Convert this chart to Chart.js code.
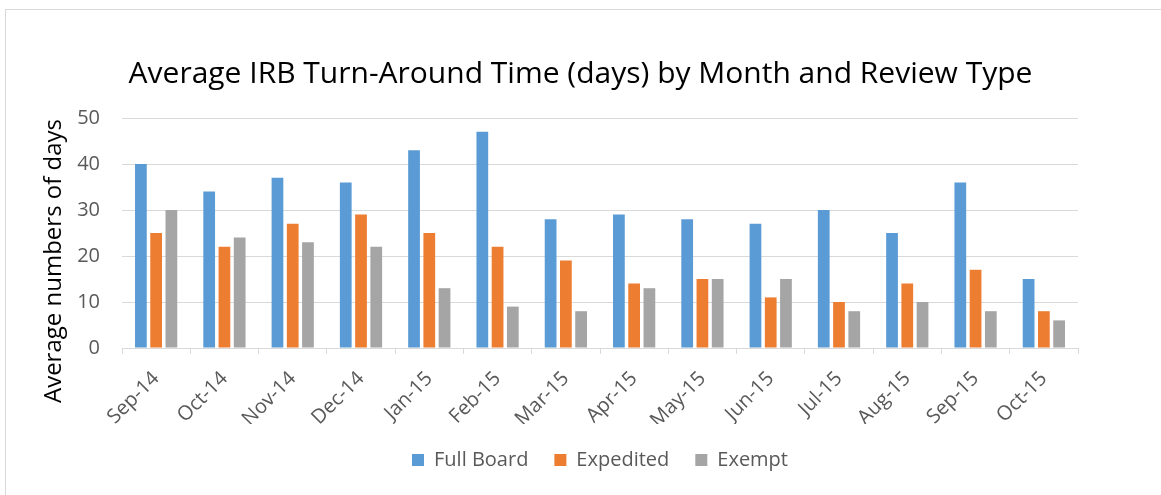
<!DOCTYPE html>
<html>
<head>
<meta charset="utf-8">
<script src="https://cdn.jsdelivr.net/npm/chart.js@4"></script>
<style>
    html, body { margin: 0; padding: 0; background: #fff; overflow: hidden; }
    #frame { position: absolute; left: 5px; top: 9px; width: 1200px; height: 600px;
             border-left: 1px solid #d9d9d9; border-top: 1px solid #d9d9d9; }
    #irbChart { position: absolute; left: 0; top: 0; }
</style>
</head>
<body>
<div id="frame"></div>
<canvas id="irbChart" width="1161" height="495"></canvas>
<script>
const months = ['Sep-14', 'Oct-14', 'Nov-14', 'Dec-14', 'Jan-15', 'Feb-15', 'Mar-15',
                'Apr-15', 'May-15', 'Jun-15', 'Jul-15', 'Aug-15', 'Sep-15', 'Oct-15'];
const fullBoard = [40, 34, 37, 36, 43, 47, 28, 29, 28, 27, 30, 25, 36, 15];
const expedited = [25, 22, 27, 29, 25, 22, 19, 14, 15, 11, 10, 14, 17, 8];
const exempt = [30, 24, 23, 22, 13, 9, 8, 13, 15, 15, 8, 10, 8, 6];
const yTicks = [0, 10, 20, 30, 40, 50];

const FONT = "'Open Sans', sans-serif";
const gridColor = '#d9d9d9';
const textColor = '#595959';

// y axis title drawn by hand so it can sit a little lower, like Excel does
const yTitlePlugin = {
    id: 'yTitle',
    afterDraw(chart) {
        const c = chart.ctx;
        const area = chart.chartArea;
        c.save();
        c.translate(54, (area.top + area.bottom) / 2 + 28);
        c.rotate(-Math.PI / 2);
        c.font = "24px " + FONT;
        c.fillStyle = '#000';
        c.textAlign = 'center';
        c.textBaseline = 'middle';
        c.fillText('Average numbers of days', 0, 0);
        c.restore();
    }
};

function bar(label, data, color) {
    return {
        label: label,
        data: data,
        backgroundColor: color,
        borderWidth: 0,
        categoryPercentage: 0.67,
        barPercentage: 0.77
    };
}

new Chart(document.getElementById('irbChart').getContext('2d'), {
    type: 'bar',
    data: {
        labels: months,
        datasets: [
            bar('Full Board', fullBoard, '#5B9BD5'),
            bar('Expedited', expedited, '#ED7D31'),
            bar('Exempt', exempt, '#A5A5A5')
        ]
    },
    options: {
        responsive: false,
        animation: false,
        layout: { padding: { left: 0, right: 0, top: 0, bottom: 15 } },
        scales: {
            x: {
                grid: { offset: true, drawOnChartArea: false, drawTicks: true, tickLength: 6, color: gridColor },
                border: { display: true, color: gridColor, width: 1 },
                ticks: {
                    color: textColor,
                    font: { family: FONT, size: 20 },
                    maxRotation: 45,
                    minRotation: 45,
                    padding: 13
                },
                afterFit(s) { s.height = 76; }
            },
            y: {
                min: 0,
                max: 50,
                afterBuildTicks(s) { s.ticks = yTicks.map(v => ({ value: v })); },
                grid: { color: gridColor, lineWidth: 1, drawTicks: false },
                border: { display: false },
                ticks: {
                    color: textColor,
                    font: { family: FONT, size: 20 },
                    padding: 22
                },
                afterFit(s) { s.width = 122; }
            },
            yRight: {
                position: 'right',
                display: true,
                grid: { display: false },
                border: { display: false },
                ticks: { display: false },
                afterFit(s) { s.width = 83; }
            }
        },
        plugins: {
            title: {
                display: true,
                text: 'Average IRB Turn-Around Time (days) by Month and Review Type',
                color: '#000',
                font: { family: FONT, size: 30, weight: 'normal' },
                padding: { top: 56, bottom: 26 }
            },
            legend: {
                position: 'bottom',
                fullSize: false,
                labels: {
                    color: textColor,
                    font: { family: FONT, size: 20 },
                    boxWidth: 12,
                    boxHeight: 12,
                    padding: 26
                }
            },
            tooltip: { enabled: false }
        }
    },
    plugins: [yTitlePlugin]
});
</script>
</body>
</html>
